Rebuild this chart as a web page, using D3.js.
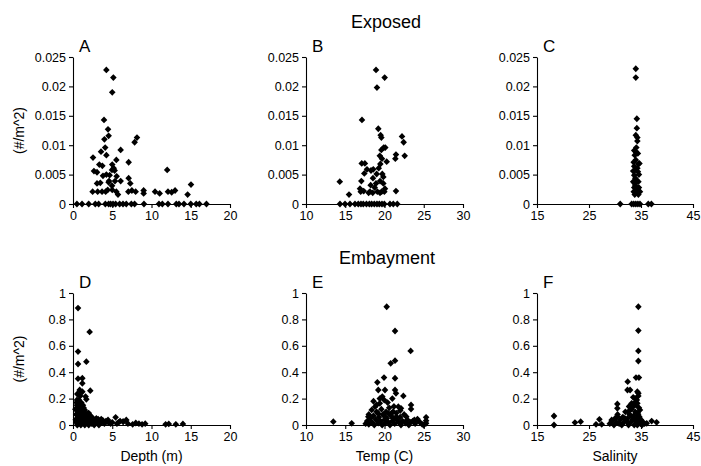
<!DOCTYPE html>
<html><head><meta charset="utf-8">
<script src="https://cdn.jsdelivr.net/npm/d3@7/dist/d3.min.js"></script>
<style>
html,body{margin:0;padding:0;background:#fff;}
svg{display:block;font-family:"Liberation Sans",Arial,sans-serif;}
</style></head><body>
<svg id="chart" width="701" height="466"></svg>
<script>
// ---------- data ----------
const rowTitles = ["Exposed", "Embayment"];
const panelLetters = ["A","B","C","D","E","F"];
const xTitles = ["Depth (m)", "Temp (C)", "Salinity"];
const yTitle = "(#/m^2)";

const depthTicks = [0,5,10,15,20];
const tempTicks = [10,15,20,25,30];
const salTicks = [15,25,35,45];
const yTicksTop = [0,0.005,0.01,0.015,0.02,0.025];
const yTickLabelsTop = ["0","0.005","0.01","0.015","0.02","0.025"];
const yTicksBottom = [0,0.2,0.4,0.6,0.8,1];
const yTickLabelsBottom = ["0","0.2","0.4","0.6","0.8","1"];

// Exposed: depth vs density
const panelA = [[4.25,0.0228],[5.14,0.0215],[5.0,0.0190],[3.95,0.0143],[4.46,0.0127],[4.54,0.0116],[4.0,0.0110],[8.15,0.0113],[7.85,0.0105],[4.1,0.0096],[6.07,0.0092],[3.57,0.0089],[4.25,0.0083],[2.55,0.0079],[5.52,0.0075],[7.09,0.0071],[3.35,0.0067],[3.74,0.0065],[5.0,0.0067],[5.18,0.0061],[2.67,0.0056],[3.06,0.0054],[4.97,0.0058],[5.3,0.0057],[12.0,0.0058],[4.25,0.0050],[4.67,0.0049],[3.82,0.0048],[5.56,0.0047],[7.09,0.0044],[5.35,0.0039],[4.59,0.0039],[6.07,0.0039],[3.06,0.0035],[3.48,0.0036],[7.3,0.0035],[15.03,0.0033],[4.97,0.0031],[4.54,0.0037],[2.5,0.0021],[3.14,0.0021],[3.7,0.0021],[4.16,0.0021],[4.42,0.0024],[5.0,0.0024],[5.52,0.0021],[5.73,0.0016],[7.05,0.0021],[7.5,0.0023],[7.98,0.0021],[9.0,0.0023],[9.0,0.0018],[10.45,0.0021],[11.04,0.0018],[12.1,0.0021],[12.57,0.0020],[13.0,0.0023],[14.6,0.0016],
[0.5,0],[1.15,0],[2.0,0],[2.84,0],[3.27,0],[4.12,0],[4.54,0],[4.8,0],[5.1,0],[5.43,0],[5.94,0],[6.37,0],[6.79,0],[7.43,0],[7.85,0],[9.04,0],[10.95,0],[11.38,0],[12.1,0],[13.16,0],[13.5,0],[14.14,0],[15.0,0],[15.7,0],[16.1,0],[17.0,0]];

// Exposed: temperature vs density
const panelB = [[18.92,0.0228],[20.02,0.0215],[19.04,0.0198],[17.13,0.0143],[19.21,0.0128],[19.51,0.0117],[19.6,0.0113],[22.23,0.0115],[22.44,0.0105],[19.9,0.0096],[19.6,0.0092],[20.1,0.0096],[19.4,0.0082],[21.46,0.0084],[21.38,0.0077],[22.57,0.0082],[19.68,0.0077],[20.28,0.0072],[17.1,0.0069],[17.5,0.0069],[17.77,0.0059],[18.28,0.0057],[18.57,0.0059],[19.47,0.0068],[19.26,0.0061],[19.72,0.0051],[17.43,0.0052],[19.0,0.0051],[19.85,0.0046],[17.05,0.0039],[18.53,0.0044],[18.92,0.0035],[19.43,0.0039],[19.85,0.0035],[18.24,0.0032],[18.75,0.0028],[16.88,0.0026],[20.06,0.0026],[17.35,0.0022],[21.46,0.0022],[16.97,0.0021],[18.15,0.0021],[19.09,0.0021],[19.64,0.0021],[19.98,0.0021],[17.98,0.0019],[18.5,0.0019],[19.43,0.0019],[15.48,0.0016],[14.3,0.0038],
[14.33,0],[14.97,0],[15.6,0],[16.24,0],[16.66,0],[17.0,0],[17.3,0],[17.7,0],[18.07,0],[18.36,0],[18.7,0],[19.04,0],[19.34,0],[19.68,0],[19.98,0],[20.7,0],[21.12,0],[21.63,0]];

// Exposed: salinity vs density
const panelC = [[34.0,0.0230],[34.0,0.0215],[34.2,0.0145],[34.2,0.0129],[34.0,0.0117],[34.3,0.0113],[34.3,0.0107],[33.7,0.0091],[34.0,0.0089],[33.8,0.0083],[34.4,0.0086],[34.0,0.0075],[34.5,0.0068],[33.7,0.0064],[34.7,0.0069],[33.9,0.0058],[34.4,0.0055],[33.7,0.0049],[34.6,0.0050],[33.9,0.0044],[33.5,0.0038],[34.5,0.0038],[33.9,0.0032],[33.7,0.0028],[34.6,0.0028],[33.6,0.0021],[34.0,0.0021],[34.8,0.0021],[33.8,0.0016],[34.5,0.0016],[34.2,0.0025],[33.5,0.0056],[34.1,0.0096],[33.6,0.0071],[34.3,0.0061],[34.1,0.0041],[33.8,0.0035],
[31.0,0],[33.2,0],[33.6,0],[34.0,0],[34.4,0],[34.8,0],[36.4,0],[37.0,0]];

// Embayment: depth vs density
const panelD = [[0.64,0.886],[2.12,0.705],[0.64,0.556],[1.70,0.48],[0.64,0.462],[0.64,0.351],[1.19,0.354],[1.19,0.316],[2.2,0.26],[0.85,0.265],[1.19,0.252],[0.55,0.235],[0.93,0.22],[1.6,0.215],[0.51,0.19],[1.7,0.195],[1.27,0.15],[0.64,0.139],[0.93,0.114],[1.49,0.114],[1.91,0.088],[0.51,0.076],[2.34,0.063],[5.43,0.058],[2.97,0.05],[3.6,0.045],[4.46,0.038],[6.79,0.038],[6.37,0.025],
[0.3,0.12],[0.4,0.08],[0.4,0.02],[0.5,0.15],[0.5,0.05],[0.6,0.1],[0.6,0.01],[0.7,0.13],[0.7,0.04],[0.8,0.16],[0.8,0.07],[0.9,0.02],[0.9,0.11],[1.0,0.14],[1.0,0.05],[1.1,0.09],[1.1,0.01],[1.2,0.12],[1.2,0.03],[1.3,0.07],[1.4,0.1],[1.4,0.02],[1.5,0.05],[1.6,0.08],[1.7,0.03],[1.8,0.06],[1.9,0.02],[2.0,0.09],[2.1,0.04],[2.2,0.07],[2.3,0.02],[2.5,0.05],[2.6,0.03],[2.8,0.04],[3.0,0.02],[3.2,0.045],[3.4,0.03],[3.6,0.02],[3.8,0.035],[4.0,0.01],[4.2,0.03],[4.5,0.02],[4.8,0.01],[5.0,0.02],[5.6,0.01],[5.8,0.02],[6.0,0.03],[6.4,0.025],[7.0,0.01],[7.6,0.005],[8.0,0.015],[8.4,0.01],[8.8,0.005],[9.2,0.01],[11.8,0.005],[12.2,0.008],[13.1,0.005],[14.0,0.008],
[0.45,0.17],[0.75,0.19],[1.05,0.17],[1.35,0.13],[0.55,0.0],[1.0,0.0],[1.5,0.0],[2.0,0.0],[2.7,0.0],[3.3,0.0],[0.35,0.04],[0.85,0.05],[1.25,0.09],[1.65,0.04],[2.4,0.01]];

// Embayment: temperature vs density
const panelE = [[20.28,0.896],[21.34,0.712],[23.33,0.561],[21.34,0.487],[20.79,0.467],[19.94,0.359],[19.09,0.323],[21.34,0.354],[19.21,0.265],[20.06,0.265],[21.34,0.265],[21.46,0.24],[22.4,0.22],[19.72,0.215],[19.97,0.189],[19.4,0.164],[19.0,0.152],[23.38,0.152],[18.8,0.139],[18.37,0.114],[23.38,0.121],[21.76,0.139],[22.1,0.126],[21.1,0.101],[20.5,0.088],[19.2,0.088],[17.94,0.063],[20.06,0.063],[21.5,0.063],[22.78,0.063],[25.3,0.058],[25.3,0.033],[25.3,0.013],[24.3,0.033],[23.8,0.038],[13.48,0.025],[15.82,0.013],
[17.6,0.01],[17.8,0.03],[18.0,0.005],[18.2,0.05],[18.4,0.02],[18.6,0.07],[18.7,0.0],[18.9,0.04],[19.0,0.1],[19.2,0.015],[19.3,0.06],[19.5,0.03],[19.6,0.12],[19.7,0.0],[19.8,0.08],[20.0,0.04],[20.1,0.015],[20.2,0.1],[20.3,0.05],[20.5,0.02],[20.6,0.13],[20.7,0.0],[20.8,0.07],[21.0,0.03],[21.1,0.05],[21.2,0.14],[21.3,0.01],[21.5,0.09],[21.6,0.04],[21.8,0.02],[22.0,0.06],[22.1,0.0],[22.3,0.03],[22.5,0.08],[22.7,0.015],[22.9,0.04],[23.1,0.0],[23.3,0.02],[23.6,0.03],[23.9,0.01],[24.2,0.045],[24.5,0.02],[24.8,0.005],[25.0,0.0],[18.0,0.08],[19.4,0.2],[18.6,0.18],[20.4,0.17],[21.0,0.2],[22.0,0.11],[20.9,0.09]];

// Embayment: salinity vs density
const panelF = [[34.49,0.896],[34.49,0.715],[34.49,0.561],[34.49,0.485],[34.04,0.359],[34.6,0.359],[32.44,0.328],[32.4,0.265],[32.9,0.265],[34.3,0.252],[34.49,0.22],[33.85,0.202],[33.2,0.164],[33.5,0.139],[34.3,0.164],[30.45,0.159],[30.45,0.126],[32.56,0.101],[34.8,0.114],[34.49,0.076],[31.9,0.05],[33.2,0.063],[30.45,0.063],[29.36,0.038],[18.27,0.068],[18.27,0],[22.3,0.018],[23.4,0.025],[27.0,0.043],[26.35,0.005],[27.44,0.005],[37.05,0.03],[38.0,0.02],[36.1,0.013],
[29.0,0.01],[29.4,0.03],[29.8,0.0],[30.0,0.05],[30.3,0.02],[30.5,0.08],[30.8,0.01],[31.0,0.04],[31.3,0.0],[31.5,0.06],[31.7,0.02],[32.0,0.1],[32.2,0.03],[32.4,0.05],[32.6,0.0],[32.8,0.08],[33.0,0.02],[33.2,0.12],[33.4,0.04],[33.6,0.07],[33.7,0.0],[33.9,0.1],[34.0,0.03],[34.1,0.15],[34.2,0.05],[34.3,0.0],[34.4,0.09],[34.5,0.02],[34.6,0.13],[34.7,0.06],[34.9,0.01],[35.0,0.04],[35.2,0.0],[35.4,0.02],[35.7,0.01],[34.2,0.19],[33.8,0.17],[34.5,0.24],[33.5,0.21],[32.7,0.14]];

// ---------- layout ----------
const svg = d3.select("#chart");
const colX = [[73,230],[306,463],[537,693]];
const rowY = [[204,57],[425,293]];
const xDomains = [[0,20],[10,30],[15,45]];
const xTickSets = [depthTicks, tempTicks, salTicks];
const yDomains = [[0,0.025],[0,1]];
const yTickSets = [yTicksTop, yTicksBottom];
const yTickLabelSets = [yTickLabelsTop, yTickLabelsBottom];
const panels = [panelA, panelB, panelC, panelD, panelE, panelF];

const diamond = "M0,-3.4L3.3,0L0,3.4L-3.3,0Z";

panels.forEach((data, i) => {
  const r = Math.floor(i / 3), c = i % 3;
  const x = d3.scaleLinear().domain(xDomains[c]).range(colX[c]);
  const y = d3.scaleLinear().domain(yDomains[r]).range(rowY[r]);
  const g = svg.append("g");

  const xa = g.append("g").attr("transform", `translate(0,${rowY[r][0]})`)
    .call(d3.axisBottom(x).tickValues(xTickSets[c]).tickSize(4).tickSizeOuter(0).tickPadding(3).tickFormat(d3.format("d")));
  const ya = g.append("g").attr("transform", `translate(${colX[c][0]},0)`)
    .call(d3.axisLeft(y).tickValues(yTickSets[r]).tickSize(4).tickSizeOuter(0).tickPadding(3)
      .tickFormat((d, k) => yTickLabelSets[r][k]));
  [xa, ya].forEach(a => {
    a.selectAll("text").attr("font-size", 12.5).attr("fill", "#000").attr("font-family", '"Liberation Sans",Arial,sans-serif');
    a.selectAll("path,line").attr("stroke", "#000").attr("stroke-width", 1.1);
  });

  g.selectAll("path.pt").data(data).enter().append("path")
    .attr("class", "pt")
    .attr("d", diamond)
    .attr("transform", d => `translate(${x(d[0])},${y(d[1])})`)
    .attr("fill", "#000");

  g.append("text").attr("x", colX[c][0] + 6).attr("y", rowY[r][1] - 5)
    .attr("font-size", 17).text(panelLetters[i]);

  if (r === 1) {
    g.append("text").attr("x", (colX[c][0] + colX[c][1]) / 2).attr("y", 461)
      .attr("text-anchor", "middle").attr("font-size", 14).text(xTitles[c]);
  }
  if (c === 0) {
    const cy = (rowY[r][0] + rowY[r][1]) / 2;
    g.append("text").attr("transform", `translate(24,${cy}) rotate(-90)`)
      .attr("text-anchor", "middle").attr("font-size", 14).text(yTitle);
  }
});

svg.append("text").attr("x", 386).attr("y", 28).attr("text-anchor", "middle")
  .attr("font-size", 18).text(rowTitles[0]);
svg.append("text").attr("x", 387).attr("y", 264).attr("text-anchor", "middle")
  .attr("font-size", 18).text(rowTitles[1]);
</script>
</body></html>
